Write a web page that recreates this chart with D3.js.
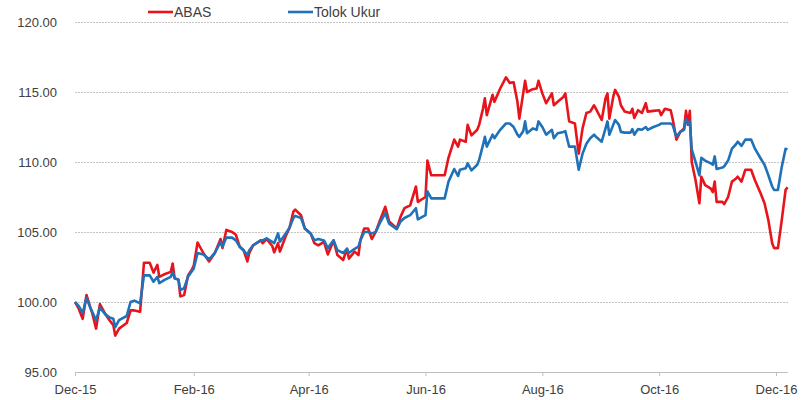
<!DOCTYPE html>
<html lang="en">

<head>
    <meta charset="UTF-8">
    <title>ABAS vs Tolok Ukur</title>
    <script src="https://d3js.org/d3.v7.min.js"></script>
    <style>
        body { margin: 0; background: #fff; }
        text { font-family: "Liberation Sans", Arial, sans-serif; fill: #404040; }
    </style>
</head>

<body>
    <svg width="810" height="400"></svg>
    <script>
        const dates = [
            "2015-12-01", "2015-12-03", "2015-12-05", "2015-12-07", "2015-12-09", "2015-12-10", "2015-12-12", "2015-12-14",
            "2015-12-17", "2015-12-19", "2015-12-21", "2015-12-22", "2015-12-24", "2015-12-28", "2015-12-30", "2016-01-01",
            "2016-01-04", "2016-01-06", "2016-01-09", "2016-01-11", "2016-01-13", "2016-01-14", "2016-01-17", "2016-01-20",
            "2016-01-21", "2016-01-22", "2016-01-24", "2016-01-25", "2016-01-27", "2016-01-29", "2016-01-31", "2016-02-01",
            "2016-02-03", "2016-02-06", "2016-02-09", "2016-02-12", "2016-02-15", "2016-02-16", "2016-02-18", "2016-02-21",
            "2016-02-23", "2016-02-25", "2016-02-27", "2016-02-29", "2016-03-01", "2016-03-03", "2016-03-07", "2016-03-08",
            "2016-03-10", "2016-03-13", "2016-03-14", "2016-03-16", "2016-03-17", "2016-03-20", "2016-03-22", "2016-03-24",
            "2016-03-25", "2016-03-28", "2016-03-30", "2016-04-02", "2016-04-04", "2016-04-06", "2016-04-09", "2016-04-11",
            "2016-04-14", "2016-04-16", "2016-04-19", "2016-04-21", "2016-04-22", "2016-04-25", "2016-04-27", "2016-04-28",
            "2016-04-30", "2016-05-02", "2016-05-04", "2016-05-06", "2016-05-08", "2016-05-11", "2016-05-13", "2016-05-17",
            "2016-05-19", "2016-05-21", "2016-05-24", "2016-05-27", "2016-05-28", "2016-06-01", "2016-06-02", "2016-06-04",
            "2016-06-11", "2016-06-13", "2016-06-16", "2016-06-18", "2016-06-19", "2016-06-22", "2016-06-23", "2016-06-25",
            "2016-06-28", "2016-06-29", "2016-07-01", "2016-07-02", "2016-07-03", "2016-07-06", "2016-07-07", "2016-07-10",
            "2016-07-13", "2016-07-15", "2016-07-17", "2016-07-19", "2016-07-20", "2016-07-22", "2016-07-23", "2016-07-24",
            "2016-07-27", "2016-07-29", "2016-07-30", "2016-08-01", "2016-08-03", "2016-08-06", "2016-08-07", "2016-08-09",
            "2016-08-12", "2016-08-13", "2016-08-15", "2016-08-18", "2016-08-20", "2016-08-22", "2016-08-24", "2016-08-26",
            "2016-08-28", "2016-08-29", "2016-09-01", "2016-09-03", "2016-09-04", "2016-09-05", "2016-09-07", "2016-09-08",
            "2016-09-10", "2016-09-11", "2016-09-13", "2016-09-16", "2016-09-17", "2016-09-18", "2016-09-20", "2016-09-22",
            "2016-09-24", "2016-09-25", "2016-09-28", "2016-10-01", "2016-10-02", "2016-10-04", "2016-10-07", "2016-10-08",
            "2016-10-10", "2016-10-12", "2016-10-14", "2016-10-15", "2016-10-16", "2016-10-17", "2016-10-18", "2016-10-20",
            "2016-10-22", "2016-10-23", "2016-10-25", "2016-10-28", "2016-10-29", "2016-10-30", "2016-10-31", "2016-11-03",
            "2016-11-04", "2016-11-06", "2016-11-08", "2016-11-10", "2016-11-11", "2016-11-13", "2016-11-15", "2016-11-18",
            "2016-11-20", "2016-11-23", "2016-11-25", "2016-11-27", "2016-11-29", "2016-11-30", "2016-12-02", "2016-12-04",
            "2016-12-06", "2016-12-07"
        ];

        const abas = [
            100.0, 99.5, 98.8, 100.5, 99.6, 99.2, 98.1, 99.85,
            99.1, 98.7, 98.35, 97.6, 98.1, 98.5, 99.4, 99.4,
            99.3, 102.8, 102.8, 102.1, 102.65, 101.8, 102.0, 102.15,
            102.75, 101.7, 101.6, 100.4, 100.5, 101.9, 102.3, 102.6,
            104.25, 103.5, 102.9, 103.5, 104.5, 103.85, 105.15, 105.0,
            104.8, 103.95, 103.7, 102.9, 103.5, 104.05, 104.4, 104.2,
            104.5, 104.0, 103.55, 104.2, 103.6, 104.7, 105.3, 106.45,
            106.6, 106.2, 105.25, 104.9, 104.2, 104.05, 104.3, 103.4,
            104.4, 103.35, 103.0, 103.8, 103.1, 103.6, 103.35, 104.4,
            105.25, 105.25, 104.5, 105.0, 105.75, 106.8, 105.75, 105.25,
            106.1, 106.7, 106.9, 108.25, 107.15, 107.5, 110.1, 109.05,
            109.05, 110.3, 111.6, 111.1, 111.6, 111.45, 112.65, 111.9,
            112.3, 112.65, 113.8, 114.55, 113.35, 114.8, 114.3, 115.25,
            116.05, 115.65, 115.7, 114.3, 113.1, 114.9, 115.8, 115.0,
            115.2, 115.25, 115.8, 114.9, 114.2, 114.9, 114.05, 114.3,
            114.65, 114.9, 112.9, 112.75, 110.6, 112.4, 113.5, 113.6,
            114.05, 113.8, 113.0, 114.55, 114.9, 113.1, 114.65, 115.15,
            114.65, 114.05, 113.6, 113.5, 113.8, 113.15, 113.7, 113.5,
            114.2, 113.6, 113.65, 113.7, 113.35, 113.8, 113.7, 113.1,
            111.6, 112.15, 112.4, 113.65, 112.65, 113.65, 110.0, 108.7,
            107.05, 108.95, 108.35, 108.1, 107.85, 108.6, 107.15, 107.15,
            107.0, 107.5, 108.6, 108.8, 108.95, 108.6, 109.45, 109.45,
            108.7, 107.75, 107.05, 105.85, 104.2, 103.85, 103.85, 105.85,
            108.0, 108.2
        ];

        const tolokUkur = [
            100.0, 99.7, 99.2, 100.3, 99.6, 99.3, 98.7, 99.6,
            99.1, 98.9, 98.8, 98.2, 98.7, 99.0, 100.0, 100.1,
            99.9, 101.9, 101.9, 101.45, 101.8, 101.35, 101.6, 101.8,
            102.15, 101.7, 101.6, 100.85, 101.0, 101.8, 102.2, 102.4,
            103.5, 103.4, 103.05, 103.5, 104.3, 103.95, 104.6, 104.6,
            104.4, 103.95, 103.7, 103.35, 103.7, 104.05, 104.4, 104.4,
            104.55, 104.3, 104.2, 104.9, 104.3, 104.9, 105.3, 106.0,
            106.15, 106.0, 105.25, 104.9, 104.4, 104.5, 104.4, 103.85,
            104.4, 103.7, 103.5, 103.8, 103.5, 103.8, 103.95, 104.4,
            105.0, 105.0, 104.9, 105.0, 105.6, 106.35, 105.6, 105.2,
            105.75, 106.0, 106.2, 106.7, 105.9, 106.2, 107.9, 107.4,
            107.4, 108.6, 109.5, 109.0, 109.45, 109.55, 109.9, 109.4,
            109.8, 110.15, 111.2, 111.8, 111.1, 111.95, 111.7, 112.3,
            112.75, 112.75, 112.5, 111.95, 111.8, 112.2, 112.9, 112.05,
            112.4, 112.3, 112.9, 112.5, 111.95, 112.3, 111.7, 112.05,
            112.15, 112.2, 111.1, 111.1, 109.45, 110.6, 111.3, 111.7,
            111.95, 111.8, 111.45, 112.4, 112.9, 111.95, 112.65, 113.0,
            112.65, 112.15, 112.1, 112.1, 112.35, 111.95, 112.35, 112.3,
            112.5, 112.3, 112.5, 112.65, 112.75, 112.75, 112.75, 112.65,
            111.8, 112.15, 112.3, 113.05, 112.75, 112.9, 110.9, 110.0,
            109.05, 110.3, 110.1, 109.9, 109.8, 110.4, 109.5, 109.6,
            109.7, 110.1, 110.95, 111.25, 111.45, 111.15, 111.6, 111.6,
            110.95, 110.25, 109.8, 109.05, 108.25, 108.0, 108.0, 109.65,
            110.95, 110.9
        ];

        const xTickDates = ["2015-12-01", "2016-02-01", "2016-04-01", "2016-06-01", "2016-08-01", "2016-10-01", "2016-12-01"];
        const yTicks = [95, 100, 105, 110, 115, 120];

        const parseDate = d3.timeParse("%Y-%m-%d");
        const series = [
            { name: "ABAS", color: "#e8141c", values: abas },
            { name: "Tolok Ukur", color: "#1f72b8", values: tolokUkur }
        ];

        const margin = { top: 22, right: 22, bottom: 28, left: 75 },
            width = 810 - margin.left - margin.right,
            height = 400 - margin.top - margin.bottom;

        const svg = d3.select("svg")
            .append("g")
            .attr("transform", `translate(${margin.left},${margin.top})`);

        const x = d3.scaleTime()
            .domain([parseDate(dates[0]), parseDate(dates[dates.length - 1])])
            .range([0, width - 0.5]);

        const y = d3.scaleLinear()
            .domain([95, 120])
            .range([height, 0]);

        // gridlines
        svg.append("g")
            .selectAll("line")
            .data(yTicks.filter(d => d !== 95))
            .enter().append("line")
            .attr("x1", 0)
            .attr("x2", width)
            .attr("y1", d => y(d) + 0.5)
            .attr("y2", d => y(d) + 0.5)
            .attr("stroke", "#c4c4c4")
            .attr("stroke-dasharray", "2,1");

        // y axis labels, no axis line
        const yAxis = svg.append("g")
            .call(d3.axisLeft(y).tickValues(yTicks).tickFormat(d3.format(".2f")).tickSize(0).tickPadding(18));
        yAxis.select(".domain").remove();
        yAxis.selectAll("text")
            .attr("font-size", 13)
            .attr("fill", "#404040")
            .style("font-family", "'Liberation Sans', Arial, sans-serif");

        // x axis
        const xAxis = svg.append("g")
            .attr("transform", `translate(0,${height})`)
            .call(d3.axisBottom(x)
                .tickValues(xTickDates.map(parseDate))
                .tickFormat(d3.timeFormat("%b-%y"))
                .tickSizeInner(4)
                .tickSizeOuter(0)
                .tickPadding(9));
        xAxis.select(".domain")
            .attr("stroke", "#bfbfbf")
            .attr("d", `M0,0.5H${width}`);
        xAxis.selectAll(".tick line")
            .attr("stroke", "#bfbfbf");
        xAxis.selectAll("text")
            .attr("font-size", 13)
            .attr("fill", "#404040")
            .style("font-family", "'Liberation Sans', Arial, sans-serif");

        const line = d3.line()
            .x((d, i) => x(parseDate(dates[i])))
            .y(d => y(d));

        svg.append("g")
            .selectAll("path")
            .data(series)
            .enter().append("path")
            .attr("fill", "none")
            .attr("stroke", d => d.color)
            .attr("stroke-width", 2.6)
            .attr("stroke-linejoin", "round")
            .attr("d", d => line(d.values));

        // legend
        const legendX = [73, 213];
        const legend = svg.append("g")
            .selectAll("g")
            .data(series)
            .enter().append("g")
            .attr("transform", (d, i) => `translate(${legendX[i]},${-10})`);

        legend.append("line")
            .attr("x1", 0)
            .attr("x2", 25)
            .attr("stroke", d => d.color)
            .attr("stroke-width", 2.6);

        legend.append("text")
            .attr("x", 26)
            .attr("dy", "0.35em")
            .attr("font-size", 14)
            .text(d => d.name);
    </script>
</body>

</html>
